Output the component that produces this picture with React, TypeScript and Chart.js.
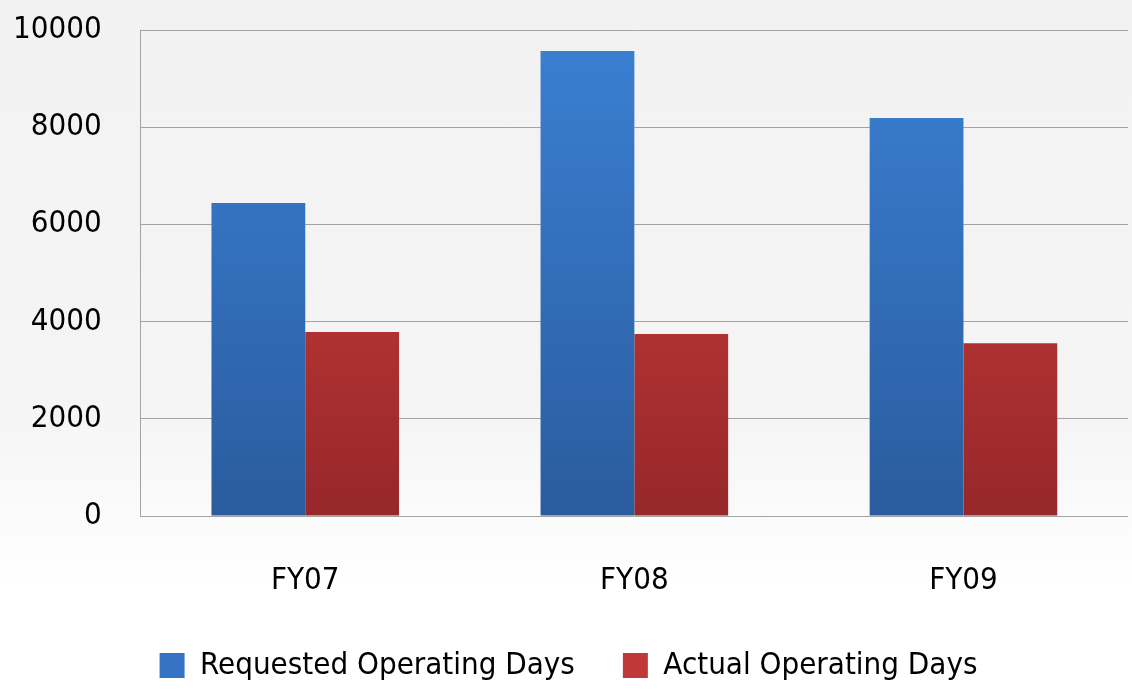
import React, { useEffect, useRef } from "react";
import { Chart, registerables } from "chart.js";

Chart.register(...registerables);

const categories = ["FY07", "FY08", "FY09"];
const requestedDays = [6440, 9570, 8190];
const actualDays = [3785, 3745, 3555];
const seriesNames = ["Requested Operating Days", "Actual Operating Days"];
const yTicks = [0, 2000, 4000, 6000, 8000, 10000];

const FONT = "'Liberation Sans Narrow', 'DejaVu Sans Condensed', sans-serif";
const FS = 31;

function gradient(ctx: any, top: string, bottom: string, fallback: string) {
  const chart = ctx.chart;
  const area = chart.chartArea;
  if (!area) return fallback;
  const g = chart.ctx.createLinearGradient(0, area.top, 0, area.bottom);
  g.addColorStop(0, top);
  g.addColorStop(1, bottom);
  return g;
}

export default function App() {
  const ref = useRef<HTMLCanvasElement>(null);
  useEffect(() => {
    document.body.style.margin = "0";
    document.body.style.background = "linear-gradient(#f2f2f2, #f5f5f5 60%, #ffffff 85%)";
    document.body.style.height = "691px";
    const chart = new Chart(ref.current!, {
      type: "bar",
      data: {
        labels: categories,
        datasets: [
          {
            label: seriesNames[0],
            data: requestedDays,
            backgroundColor: (c: any) => gradient(c, "#3b80d4", "#2a5c9e", "#3370bd"),
            borderWidth: 0,
            categoryPercentage: 0.57,
            barPercentage: 1.0,
          },
          {
            label: seriesNames[1],
            data: actualDays,
            backgroundColor: (c: any) => gradient(c, "#d9433e", "#96272a", "#c23a36"),
            borderWidth: 0,
            categoryPercentage: 0.57,
            barPercentage: 1.0,
          },
        ],
      },
      options: {
        animation: false,
        responsive: false,
        maintainAspectRatio: false,
        layout: { padding: { left: 9, right: 4, top: 30, bottom: 0 } },
        plugins: {
          tooltip: { enabled: false },
          legend: {
            position: "bottom",
            labels: {
              color: "#000",
              font: { family: FONT, size: FS },
              boxWidth: 25,
              boxHeight: 25,
              padding: 48,
              generateLabels: (ch: any) =>
                ch.data.datasets.map((d: any, i: number) => ({
                  text: d.label,
                  fillStyle: i === 0 ? "#3573c4" : "#c1383a",
                  strokeStyle: "rgba(0,0,0,0)",
                  lineWidth: 0,
                  datasetIndex: i,
                  hidden: false,
                })),
            },
          },
        },
        scales: {
          x: {
            grid: { display: false, drawTicks: true, tickLength: 46 },
            border: { display: false },
            ticks: { color: "#000", font: { family: FONT, size: FS }, padding: 0 },
            afterFit: (scale: any) => {
              scale.height = 86;
            },
          },
          y: {
            min: 0,
            max: 10000,
            afterBuildTicks: (axis: any) => {
              axis.ticks = yTicks.map((v) => ({ value: v }));
            },
            grid: { color: "#a3a3a3", lineWidth: 1, drawTicks: true, tickLength: 35, tickColor: "rgba(0,0,0,0)" },
            border: { display: true, color: "#a3a3a3" },
            ticks: {
              color: "#000",
              font: { family: FONT, size: FS },
              padding: 4,
              callback: (v: any) => String(v),
            },
          },
        },
      },
    });
    return () => chart.destroy();
  }, []);
  return (
    <div style={{ width: 1132, height: 691 }}>
      <canvas ref={ref} width={1132} height={691} style={{ display: "block" }} />
    </div>
  );
}
